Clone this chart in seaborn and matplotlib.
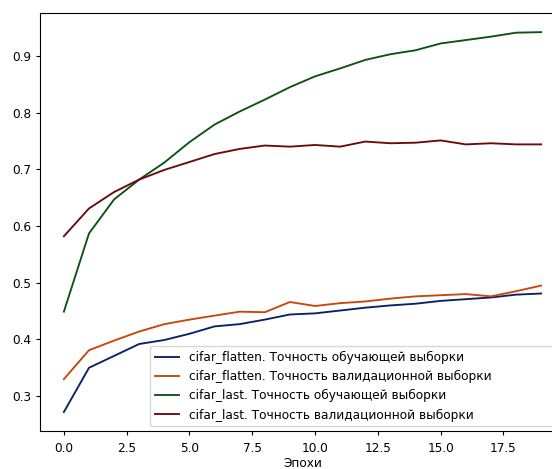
import numpy as np
import pandas as pd
import seaborn as sns
import matplotlib.pyplot as plt

epochs = list(range(20))

flatten_train = [0.272, 0.350, 0.371, 0.392, 0.399, 0.410, 0.423, 0.427, 0.435, 0.444,
                 0.446, 0.451, 0.456, 0.460, 0.463, 0.468, 0.471, 0.474, 0.479, 0.481]
flatten_val = [0.330, 0.381, 0.398, 0.414, 0.427, 0.435, 0.442, 0.449, 0.448, 0.466,
               0.459, 0.464, 0.467, 0.472, 0.476, 0.478, 0.480, 0.476, 0.485, 0.495]
last_train = [0.449, 0.587, 0.647, 0.682, 0.712, 0.748, 0.779, 0.802, 0.823, 0.845,
              0.864, 0.878, 0.893, 0.903, 0.910, 0.922, 0.928, 0.934, 0.941, 0.942]
last_val = [0.582, 0.631, 0.660, 0.682, 0.699, 0.713, 0.727, 0.736, 0.742, 0.740,
            0.743, 0.740, 0.749, 0.746, 0.747, 0.751, 0.744, 0.746, 0.744, 0.744]

labels = ['cifar_flatten. Точность обучающей выборки',
          'cifar_flatten. Точность валидационной выборки',
          'cifar_last. Точность обучающей выборки',
          'cifar_last. Точность валидационной выборки']
colors = ['#0c2163', '#c8470a', '#0d5212', '#6b0a0a']

frames = []
for lab, vals in zip(labels, [flatten_train, flatten_val, last_train, last_val]):
    frames.append(pd.DataFrame({'epoch': epochs, 'acc': vals, 'series': lab}))
df = pd.concat(frames, ignore_index=True)

# the reference looks like a 10pt figure shrunk a bit
plt.rcParams['font.size'] = 8.7
plt.rcParams['xtick.major.size'] = 3
plt.rcParams['ytick.major.size'] = 3
plt.rcParams['xtick.major.pad'] = 5
plt.rcParams['axes.linewidth'] = 0.8

fig = plt.figure(figsize=(5.52, 4.69), dpi=100)
ax = fig.add_axes([0.0725, 0.081, 0.951, 0.891])
sns.lineplot(data=df, x='epoch', y='acc', hue='series', palette=colors,
             hue_order=labels, linewidth=1.35, ax=ax)

ax.set_xlabel('Эпохи', labelpad=1)
ax.set_ylabel('')
ax.set_xticks([0, 2.5, 5, 7.5, 10, 12.5, 15, 17.5])
ax.set_yticks([0.3, 0.4, 0.5, 0.6, 0.7, 0.8, 0.9])
ax.legend(loc='lower left', bbox_to_anchor=(0.2095, 0.011, 0.78, 0.2),
          mode='expand', borderaxespad=0, title=None)

fig.savefig('out.png', dpi=100)
